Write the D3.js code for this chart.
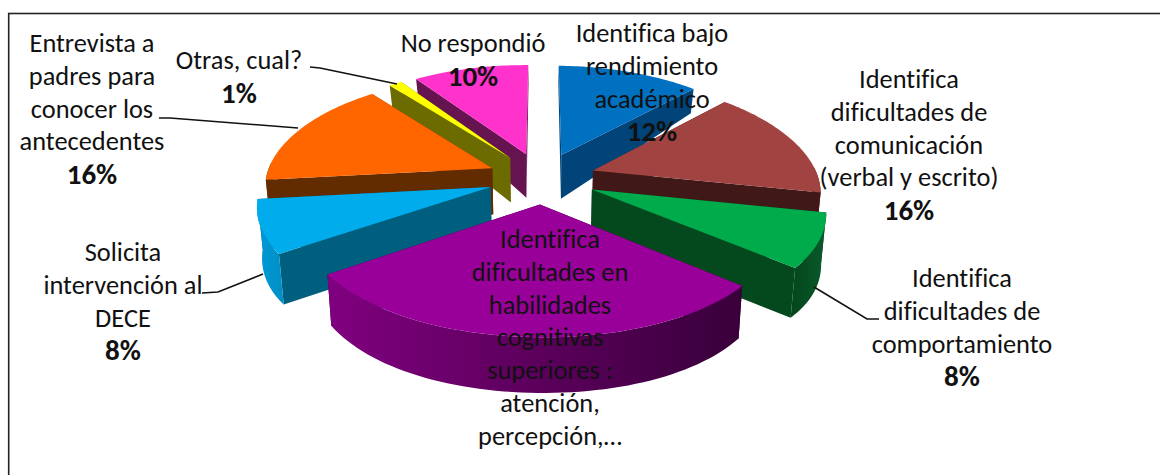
<!DOCTYPE html>
<html><head><meta charset="utf-8">
<script src="https://cdn.jsdelivr.net/npm/d3@7"></script>
<style>
html,body{margin:0;padding:0;background:#fff;}
svg{display:block;}
text{font-family:Carlito,Lato,"Open Sans",sans-serif;fill:#111;text-anchor:middle;font-variant-ligatures:none;}
</style></head><body>
<svg id="chart" width="1160" height="475"></svg>
<script>
const categories = [
  "Identifica bajo rendimiento académico",
  "Identifica dificultades de comunicación (verbal y escrito)",
  "Identifica dificultades de comportamiento",
  "Identifica dificultades en habilidades cognitivas superiores : atención, percepción,…",
  "Solicita intervención al DECE",
  "Entrevista a padres para conocer los antecedentes",
  "Otras, cual?",
  "No respondió"
];
const values = [12, 16, 8, 29.2, 7.8, 16.1, 1.1, 9.8];
const percentLabels = ["12%", "16%", "8%", null, "8%", "16%", "1%", "10%"];
const labelLines = [
  ["Identifica bajo", "rendimiento", "académico"],
  ["Identifica", "dificultades de", "comunicación", "(verbal y escrito)"],
  ["Identifica", "dificultades de", "comportamiento"],
  ["Identifica", "dificultades en", "habilidades", "cognitivas", "superiores :", "atención,", "percepción,…"],
  ["Solicita", "intervención al", "DECE"],
  ["Entrevista a", "padres para", "conocer los", "antecedentes"],
  ["Otras, cual?"],
  ["No respondió"]
];
const topColors   = ["#0070C0", "#A04341", "#00AB4C", "#990099", "#00ACEC", "#FF6600", "#FFFF00", "#FF33CC"];
const sideColors  = ["#00447A", "#401818", "#04481E", "#3a0038", "#005F7E", "#622B00", "#6B6B00", "#661450"];
const outerLeft   = ["#00447A", "#401818", "#04481E", "#80007f", "#009BD8", "#622B00", "#6B6B00", "#661450"];
const outerRight  = ["#00447A", "#401818", "#0a5a2c", "#38003a", "#0090C8", "#622B00", "#6B6B00", "#661450"];
const labelCenter = [652, 909, 962, 550, 123, 92, 239, 473];
const labelFirstBaseline = [42, 88, 287, 248, 261, 52, 69, 52];
const lineStep = 32.8;
const leaders = [
  [[310,67],[320,68],[397,84]],
  [[159,118],[170,118],[298,128]],
  [[202,293],[218,292],[263,274]],
  [[814,287],[867,319],[879,319]]
];

const svg = d3.select("#chart");
const defs = svg.append("defs");
svg.append("rect").attr("x",8.7).attr("y",13.5).attr("width",1200).attr("height",500)
  .attr("fill","#fff").attr("stroke","#222").attr("stroke-width",1.6);

// 3D projection of a tilted disc with perspective
const cx=542, cyTop=178, R=226, S=107, k=.135, kx=.16, shear=.008, shrink=.982;
const explode=.24;
const botY = d3.scaleLinear()
  .domain([-1.3,-1.037,-.228,.75,1.0,1.24,1.4])
  .range([78,102,198,317,356,393,420]);
const sx = (X,Z)=> cx + R*X/(1-kx*Z);
const topPt = (X,Z)=> { const x=sx(X,Z); return [x, cyTop + S*Z/(1-k*Z) - shear*(cx-x)]; };
const botPt = (X,Z)=> { const x=cx+(sx(X,Z)-cx)*shrink; return [x, botY(Z) - shear*(cx-x)]; };

const pie = d3.pie().sort(null).startAngle(0).endAngle(2*Math.PI);
const arcs = pie(values);
const g = svg.append("g");
const line = d3.line();
const order = [0,7,6,5,1,4,2,3];

order.forEach(i=>{
  const a = arcs[i];
  const bis = (a.startAngle+a.endAngle)/2;
  const ex = explode*Math.sin(bis), ez = -explode*Math.cos(bis);
  const P = (th,r)=> [ex + r*Math.sin(th), ez - r*Math.cos(th)];
  const thetas = d3.range(0,61).map(j=> a.startAngle + (a.endAngle-a.startAngle)*j/60);
  const topArc = thetas.map(t=> topPt(...P(t,1)));
  const apexT = topPt(...P(0,0)), apexB = botPt(...P(0,0));
  // radial faces
  [a.startAngle, a.endAngle].forEach(t=>{
    const o = P(t,1);
    g.append("path").attr("d", line([apexT, topPt(...o), botPt(...o), apexB])+"Z")
      .attr("fill", sideColors[i]);
  });
  // outer rim (only the part turned to the viewer), shaded left to right
  const vis = thetas.filter(t=>Math.cos(t) <= 0.05);
  if (vis.length > 1) {
    const tp = vis.map(t=>topPt(...P(t,1))), bp = vis.map(t=>botPt(...P(t,1)));
    const ext = d3.extent(tp, d=>d[0]);
    const id = "rim"+i;
    const lg = defs.append("linearGradient").attr("id",id).attr("gradientUnits","userSpaceOnUse")
      .attr("x1",ext[0]).attr("x2",ext[1]).attr("y1",0).attr("y2",0);
    lg.append("stop").attr("offset",0).attr("stop-color",outerLeft[i]);
    lg.append("stop").attr("offset",1).attr("stop-color",outerRight[i]);
    g.append("path").attr("d", line(tp.concat(bp.reverse()))+"Z").attr("fill",`url(#${id})`);
  }
  // top face
  g.append("path").attr("d", line([apexT].concat(topArc))+"Z").attr("fill", topColors[i]);
});

// leader lines
const lp = d3.line().curve(d3.curveLinear);
svg.append("g").selectAll("path").data(leaders).join("path")
  .attr("d", d=>lp(d)).attr("fill","none").attr("stroke","#111").attr("stroke-width",1.6);

// labels
const fs = 26.4, fsBold = 29;
categories.forEach((c,i)=>{
  const lines = labelLines[i].slice();
  const t = svg.append("g");
  lines.forEach((l,j)=>{
    t.append("text").attr("x",labelCenter[i]).attr("y",labelFirstBaseline[i]+j*lineStep)
      .attr("font-size",fs).text(l);
  });
  if(percentLabels[i]) t.append("text").attr("x",labelCenter[i])
      .attr("y",labelFirstBaseline[i]+lines.length*lineStep+1)
      .attr("font-size",fsBold).attr("font-weight",700).text(percentLabels[i]);
});
</script></body></html>
